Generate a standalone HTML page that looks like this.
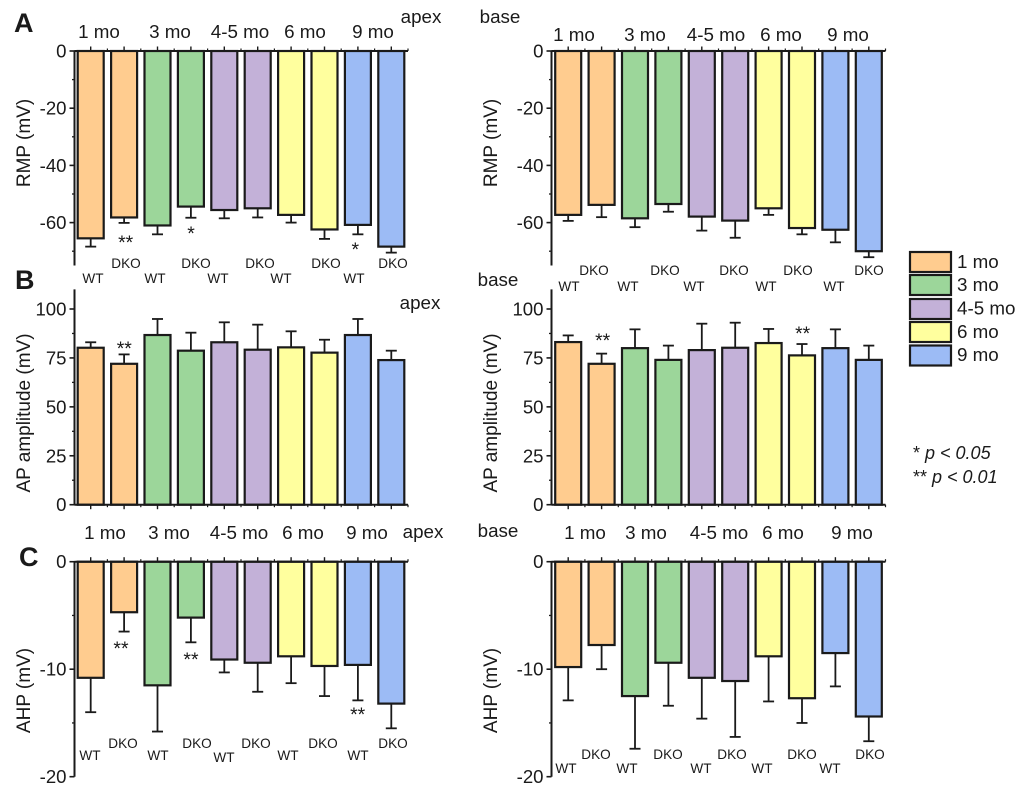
<!DOCTYPE html>
<html>
<head>
<meta charset="utf-8">
<title>RMP, AP amplitude and AHP by age</title>
<style>
html,body{margin:0;padding:0;background:#fff;}
svg{display:block;font-family:"Liberation Sans",sans-serif;fill:#1a1a1a;}
.m{font-size:18.8px;text-anchor:middle;}
.g{font-size:13.6px;text-anchor:middle;}
.s{font-size:19.5px;text-anchor:middle;}
.l{font-size:27px;font-weight:bold;}
.t{font-size:18.6px;text-anchor:end;}
.y{font-size:19px;text-anchor:middle;}
</style>
</head>
<body>
<svg id="figure" width="1020" height="787" viewBox="0 0 1020 787" xmlns="http://www.w3.org/2000/svg">
<rect x="0" y="0" width="1020" height="787" fill="#fff"/>
<g id="plots"></g>

<g>
<text class="l" x="14" y="32">A</text>
<text class="l" x="15" y="289">B</text>
<text class="l" x="19" y="566">C</text>
</g>

<g>
<text class="m" x="421" y="23">apex</text>
<text class="m" x="500" y="23">base</text>
<text class="m" x="420" y="309">apex</text>
<text class="m" x="498" y="286">base</text>
<text class="m" x="423" y="538">apex</text>
<text class="m" x="498" y="537">base</text>
</g>

<g>
<text class="m" x="99" y="38">1 mo</text>
<text class="m" x="170" y="38">3 mo</text>
<text class="m" x="240" y="38">4-5 mo</text>
<text class="m" x="305" y="38">6 mo</text>
<text class="m" x="373" y="38">9 mo</text>
<text class="m" x="574" y="41">1 mo</text>
<text class="m" x="645" y="41">3 mo</text>
<text class="m" x="716" y="41">4-5 mo</text>
<text class="m" x="781" y="41">6 mo</text>
<text class="m" x="848" y="41">9 mo</text>
<text class="m" x="105" y="539">1 mo</text>
<text class="m" x="169" y="539">3 mo</text>
<text class="m" x="239" y="539">4-5 mo</text>
<text class="m" x="303" y="539">6 mo</text>
<text class="m" x="367" y="539">9 mo</text>
<text class="m" x="585" y="539">1 mo</text>
<text class="m" x="646" y="539">3 mo</text>
<text class="m" x="719" y="539">4-5 mo</text>
<text class="m" x="783" y="539">6 mo</text>
<text class="m" x="852" y="539">9 mo</text>
</g>

<g>
<text class="g" x="126" y="268">DKO</text>
<text class="g" x="196" y="268">DKO</text>
<text class="g" x="260" y="268">DKO</text>
<text class="g" x="326" y="268">DKO</text>
<text class="g" x="393" y="268">DKO</text>
<text class="g" x="93" y="283">WT</text>
<text class="g" x="155" y="283">WT</text>
<text class="g" x="218" y="283">WT</text>
<text class="g" x="281" y="283">WT</text>
<text class="g" x="354" y="283">WT</text>
<text class="g" x="594" y="275">DKO</text>
<text class="g" x="665" y="275">DKO</text>
<text class="g" x="734" y="275">DKO</text>
<text class="g" x="798" y="275">DKO</text>
<text class="g" x="869" y="275">DKO</text>
<text class="g" x="569" y="291">WT</text>
<text class="g" x="628" y="291">WT</text>
<text class="g" x="694" y="291">WT</text>
<text class="g" x="766" y="291">WT</text>
<text class="g" x="834" y="291">WT</text>
<text class="g" x="123" y="748">DKO</text>
<text class="g" x="197" y="748">DKO</text>
<text class="g" x="256" y="748">DKO</text>
<text class="g" x="323" y="748">DKO</text>
<text class="g" x="393" y="748">DKO</text>
<text class="g" x="90" y="760">WT</text>
<text class="g" x="158" y="760">WT</text>
<text class="g" x="224" y="762">WT</text>
<text class="g" x="288" y="760">WT</text>
<text class="g" x="358" y="760">WT</text>
<text class="g" x="596" y="759">DKO</text>
<text class="g" x="668" y="759">DKO</text>
<text class="g" x="732" y="759">DKO</text>
<text class="g" x="802" y="759">DKO</text>
<text class="g" x="870" y="759">DKO</text>
<text class="g" x="566" y="773">WT</text>
<text class="g" x="627" y="773">WT</text>
<text class="g" x="701" y="773">WT</text>
<text class="g" x="762" y="773">WT</text>
<text class="g" x="830" y="773">WT</text>
</g>

<g>
<text class="s" x="125.7" y="249">**</text>
<text class="s" x="191" y="240">*</text>
<text class="s" x="355.3" y="256">*</text>
<text class="s" x="124.3" y="355">**</text>
<text class="s" x="602.7" y="347">**</text>
<text class="s" x="802.7" y="340">**</text>
<text class="s" x="121" y="655">**</text>
<text class="s" x="191" y="666">**</text>
<text class="s" x="357.7" y="721">**</text>
</g>

<g>
<rect x="910" y="252" width="41" height="20" fill="#ffcc8f" stroke="#1a1a1a" stroke-width="2.2"/>
<text x="957" y="268" font-size="18.8">1 mo</text>
<rect x="910" y="275" width="41" height="20" fill="#9cd69a" stroke="#1a1a1a" stroke-width="2.2"/>
<text x="957" y="291" font-size="18.8">3 mo</text>
<rect x="910" y="299" width="41" height="20" fill="#c3b1d8" stroke="#1a1a1a" stroke-width="2.2"/>
<text x="957" y="314.5" font-size="18.8">4-5 mo</text>
<rect x="910" y="322" width="41" height="20" fill="#ffff9e" stroke="#1a1a1a" stroke-width="2.2"/>
<text x="957" y="338" font-size="18.8">6 mo</text>
<rect x="910" y="345.5" width="41" height="20" fill="#9cbbf5" stroke="#1a1a1a" stroke-width="2.2"/>
<text x="957" y="361" font-size="18.8">9 mo</text>
</g>

<g>
<text x="913" y="459" font-size="18" font-style="italic"><tspan font-style="normal">*</tspan> p &lt; 0.05</text>
<text x="913" y="483" font-size="18" font-style="italic"><tspan font-style="normal">**</tspan> p &lt; 0.01</text>
</g>
</svg>

<script>
// Shared categories
const ageGroups = ['1 mo', '1 mo', '3 mo', '3 mo', '4-5 mo', '4-5 mo', '6 mo', '6 mo', '9 mo', '9 mo'];
const genotypes = ['WT', 'DKO', 'WT', 'DKO', 'WT', 'DKO', 'WT', 'DKO', 'WT', 'DKO'];
const ageColors = {'1 mo': '#ffcc8f', '3 mo': '#9cd69a', '4-5 mo': '#c3b1d8', '6 mo': '#ffff9e', '9 mo': '#9cbbf5'};

// Series: bar values and end of error bars
const rmpApexValues = [-65.5, -58.2, -61, -54.4, -55.6, -55, -57.3, -62.4, -60.8, -68.4];
const rmpApexErrorEnds = [-68.4, -60.1, -64.1, -58.3, -58.5, -58.2, -60, -65.7, -64.1, -70.5];
const rmpBaseValues = [-57.3, -53.8, -58.5, -53.5, -57.9, -59.3, -55, -61.9, -62.5, -70];
const rmpBaseErrorEnds = [-59.4, -58.1, -61.6, -56.2, -62.8, -65.3, -57.3, -64.1, -66.9, -72.1];
const apApexValues = [80.2, 72, 86.7, 78.7, 83, 79.2, 80.4, 77.7, 86.7, 73.9];
const apApexErrorEnds = [83, 76.8, 94.9, 87.9, 93.2, 92, 88.6, 84.3, 94.9, 78.7];
const apBaseValues = [83.1, 72, 80, 74, 79, 80.2, 82.6, 76.3, 80, 74];
const apBaseErrorEnds = [86.5, 77.2, 89.6, 81.3, 92.5, 93, 89.8, 82.1, 89.6, 81.3];
const ahpApexValues = [-10.8, -4.7, -11.5, -5.2, -9.1, -9.4, -8.8, -9.7, -9.6, -13.2];
const ahpApexErrorEnds = [-14, -6.5, -15.8, -7.5, -10.3, -12.1, -11.3, -12.5, -12.9, -15.5];
const ahpBaseValues = [-9.8, -7.75, -12.5, -9.4, -10.8, -11.1, -8.8, -12.7, -8.5, -14.4];
const ahpBaseErrorEnds = [-12.9, -10, -17.4, -13.4, -14.6, -16.3, -13, -15, -11.6, -16.7];

// Axis tick labels
const rmpTicks = [0, -20, -40, -60];
const rmpMinorTicks = [-10, -30, -50, -70];
const apTicks = [0, 25, 50, 75, 100];
const apMinorTicks = [12.5, 37.5, 62.5, 87.5];
const ahpTicks = [0, -10, -20];
const ahpMinorTicks = [-5, -15];

const SVGNS = 'http://www.w3.org/2000/svg';
const INK = '#1a1a1a';
const plots = document.getElementById('plots');

function shape(parent, tag, attrs) {
  const el = document.createElementNS(SVGNS, tag);
  for (const k in attrs) el.setAttribute(k, attrs[k]);
  parent.appendChild(el);
  return el;
}

function drawChart(o) {
  const yScale = v => o.y0 + (v - o.vZero) / (o.vRef - o.vZero) * (o.yRef - o.y0);
  const xScale = i => o.xFirst + i * 33.4;
  const axisY = yScale(0);

  const g = shape(plots, 'g', {});
  
  

  o.values.forEach((v, i) => {
    const cx = xScale(i);
    const end = o.errors[i];

    const stem = shape(g, 'line', {x1: cx, x2: cx, y1: yScale(v), y2: yScale(end), stroke: INK, 'stroke-width': 1.8});
    
    

    const cap = shape(g, 'line', {x1: cx - 5.5, x2: cx + 5.5, y1: yScale(end), y2: yScale(end), stroke: INK, 'stroke-width': 1.8});
    
    

    const top = Math.min(yScale(v), axisY);
    const h = Math.abs(yScale(v) - axisY);
    const bar = shape(g, 'rect', {x: cx - 13, y: top, width: 26, height: h, fill: ageColors[ageGroups[i]], stroke: INK, 'stroke-width': 2.2});
    
    

    const tick = shape(g, 'line', {x1: cx, x2: cx, y1: axisY, y2: axisY + o.tickDir * 4.5, stroke: INK, 'stroke-width': 1.4});
    
    

    const minor = shape(g, 'line', {x1: cx + 16.7, x2: cx + 16.7, y1: axisY, y2: axisY + o.tickDir * 2.5, stroke: INK, 'stroke-width': 1.2});
    
    
  });

  const xAxis = shape(g, 'line', {x1: o.xAxis, x2: o.xEnd, y1: axisY, y2: axisY, stroke: INK, 'stroke-width': 2});
  
  

  const yAxis = shape(g, 'line', {x1: o.xAxis, x2: o.xAxis, y1: yScale(o.vMin), y2: yScale(o.vMax), stroke: INK, 'stroke-width': 2});
  
  

  o.ticks.forEach(t => {
    const y = yScale(t);
    const tick = shape(g, 'line', {x1: o.xAxis - 5, x2: o.xAxis, y1: y, y2: y, stroke: INK, 'stroke-width': 1.6});
    
    

    const label = shape(g, 'text', {x: o.xAxis - 8, y: y + 6.5, class: 't'});
    
    
    label.textContent = String(t);
  });

  o.minorTicks.forEach(t => {
    const y = yScale(t);
    const tick = shape(g, 'line', {x1: o.xAxis - 2.5, x2: o.xAxis, y1: y, y2: y, stroke: INK, 'stroke-width': 1.3});
    
    
  });

  const title = shape(g, 'text', {class: 'y', transform: 'translate(' + o.titleX + ',' + o.titleY + ') rotate(-90)'});
  
  
  title.textContent = o.title;
}

drawChart({name: 'chart-rmp-apex', values: rmpApexValues, errors: rmpApexErrorEnds, ticks: rmpTicks, minorTicks: rmpMinorTicks, title: 'RMP (mV)',
  xAxis: 74.5, xEnd: 408, xFirst: 90.7, y0: 51, yRef: 222.6, vZero: 0, vRef: -60, vMin: -75, vMax: 0, tickDir: -1, titleX: 30, titleY: 143});
drawChart({name: 'chart-rmp-base', values: rmpBaseValues, errors: rmpBaseErrorEnds, ticks: rmpTicks, minorTicks: rmpMinorTicks, title: 'RMP (mV)',
  xAxis: 551.5, xEnd: 885.5, xFirst: 568.2, y0: 51, yRef: 222.6, vZero: 0, vRef: -60, vMin: -75, vMax: 0, tickDir: -1, titleX: 497, titleY: 143});
drawChart({name: 'chart-ap-apex', values: apApexValues, errors: apApexErrorEnds, ticks: apTicks, minorTicks: apMinorTicks, title: 'AP amplitude (mV)',
  xAxis: 74.5, xEnd: 408, xFirst: 90.7, y0: 504.7, yRef: 309, vZero: 0, vRef: 100, vMin: 0, vMax: 110, tickDir: 1, titleX: 30, titleY: 413});
drawChart({name: 'chart-ap-base', values: apBaseValues, errors: apBaseErrorEnds, ticks: apTicks, minorTicks: apMinorTicks, title: 'AP amplitude (mV)',
  xAxis: 551.5, xEnd: 885.5, xFirst: 568.2, y0: 504.7, yRef: 309, vZero: 0, vRef: 100, vMin: 0, vMax: 110, tickDir: 1, titleX: 497, titleY: 413});
drawChart({name: 'chart-ahp-apex', values: ahpApexValues, errors: ahpApexErrorEnds, ticks: ahpTicks, minorTicks: ahpMinorTicks, title: 'AHP (mV)',
  xAxis: 74.5, xEnd: 408, xFirst: 90.7, y0: 561.7, yRef: 776.7, vZero: 0, vRef: -20, vMin: -20, vMax: 0, tickDir: -1, titleX: 30, titleY: 690.5});
drawChart({name: 'chart-ahp-base', values: ahpBaseValues, errors: ahpBaseErrorEnds, ticks: ahpTicks, minorTicks: ahpMinorTicks, title: 'AHP (mV)',
  xAxis: 551.5, xEnd: 885.5, xFirst: 568.2, y0: 561.7, yRef: 776.7, vZero: 0, vRef: -20, vMin: -20, vMax: 0, tickDir: -1, titleX: 497, titleY: 690.5});
</script>
</body>
</html>
